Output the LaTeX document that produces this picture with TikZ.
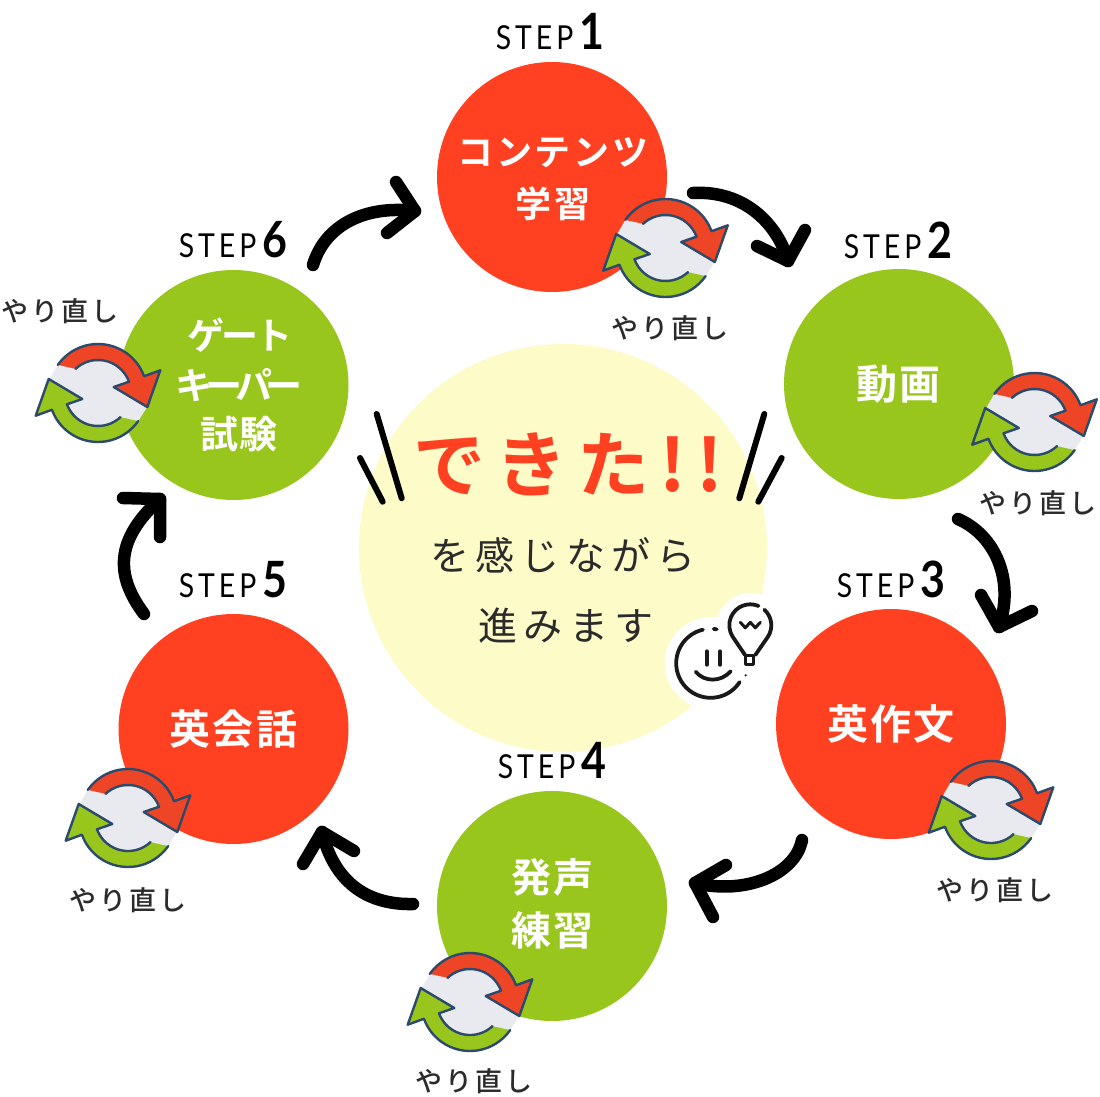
\documentclass[tikz,border=0pt]{standalone}
\usepackage{fontspec}
\setmainfont{Noto Sans CJK JP}
\newfontfamily\jpreg{Noto Sans CJK JP}
\newfontfamily\jpmed{Noto Sans CJK JP Medium}
\newfontfamily\jpbold{Noto Sans CJK JP Bold}
\newfontfamily\stepfont{Lato}
\definecolor{cred}{HTML}{FF4021}
\definecolor{cgreen}{HTML}{98C61C}
\definecolor{cpale}{HTML}{FDFBC8}
\definecolor{iconred}{HTML}{EE4526}
\definecolor{iconline}{HTML}{2C4A6B}
\definecolor{icongray}{HTML}{E9EAEF}
\definecolor{txtdark}{HTML}{2B2B2B}
\newcommand{\circfont}[2]{\jpbold\addfontfeatures{LetterSpace=#2}\fontsize{#1}{53}\selectfont}
\newcommand{\stepmark}[1]{\scalebox{0.86}[1]{\stepfont\addfontfeatures{LetterSpace=14}\fontsize{33}{33}\selectfont STEP}\hspace{6pt}{\stepfont\bfseries\fontsize{50}{50}\selectfont\scalebox{0.86}[1]{#1}}}
\newcommand{\redoband}[2]{%
  \fill[#1] (145:49pt) arc[start angle=145,end angle=20,radius=49pt] -- (62.3,22.7) -- (49.3,-14) -- (15.7,6) -- (20:33pt) arc[start angle=20,end angle=133,radius=33pt] -- cycle;
  \draw[iconstroke] (145:49pt) arc[start angle=145,end angle=20,radius=49pt] -- (62.3,22.7) -- (49.3,-14) -- (15.7,6) -- (20:33pt) arc[start angle=20,end angle=133,radius=33pt];
}
\newcommand{\redoicon}[2]{%
  \begin{scope}[shift={(#1,#2)}]
  \begin{scope}[y=1pt]
    \fill[icongray] (0,0) circle[radius=34pt];
    \fill[icongray] (-40,28.3) -- (-23,25) -- (15.7,6) -- (49.3,-14) -- (40,-28.3) -- (23,-25) -- (-15.7,-6) -- (-48.3,14) -- cycle;
    \redoband{iconred}{}
    \begin{scope}[rotate=180]
      \redoband{cgreen}{}
    \end{scope}
  \end{scope}
  \end{scope}
}
\tikzset{
  stepcircle/.style={circle,minimum size=230pt,inner sep=0pt,text=white,align=center},
  redcircle/.style={stepcircle,fill=cred},
  greencircle/.style={stepcircle,fill=cgreen},
  circletext/.style={inner sep=0pt,text=white},
  steplabel/.style={inner sep=0pt,text=black},
  redolabel/.style={inner sep=0pt,text=txtdark,font={\jpmed\addfontfeatures{LetterSpace=10}\fontsize{27}{30}\selectfont}},
  iconstroke/.style={draw=iconline,line width=2.4pt,line join=round,line cap=round},
  flowline/.style={draw=black,line width=12.5pt,line cap=round,line join=round},
  burst/.style={draw=black,line width=6pt,line cap=round},
  faceline/.style={draw=black!90,line width=3.8pt,line cap=round,line join=round},
}
\begin{document}
\begin{tikzpicture}[x=1pt,y=-1pt]
\useasboundingbox (0,0) rectangle (1100,1097);
\fill[white] (0,0) rectangle (1100,1097);

% centre
\node (centre) [circle,minimum size=408pt,inner sep=0pt,fill=cpale] at (563,548) {};
\node (done) [inner sep=0pt,text=cred] at (568,464) {\jpbold\addfontfeatures{LetterSpace=14}\fontsize{72}{72}\selectfont できた!!};
\node (line1) [inner sep=0pt,text=txtdark] at (563,555) {\jpreg\addfontfeatures{LetterSpace=16}\fontsize{39}{40}\selectfont を感じながら};
\node (line2) [inner sep=0pt,text=txtdark] at (566,626) {\jpreg\addfontfeatures{LetterSpace=16}\fontsize{39}{40}\selectfont 進みます};

% burst
\draw[burst] (376.7,414) -- (401.7,498.3);
\draw[burst] (360,458) -- (382.7,501.7);
\draw[burst] (764.3,414) -- (739.3,498.3);
\draw[burst] (781.7,458) -- (758.3,501.7);

% face and bulb
\fill[white] (710.7,663.3) circle[radius=46pt];
\fill[white] (750.3,627) circle[radius=34pt];
\fill[white] (735,640) rectangle (772,680);
\begin{scope}[shift={(710.7,663.3)}]
\begin{scope}[y=1pt]
  \draw[faceline] (103:34.5pt) arc[start angle=103,end angle=327,radius=34.5pt];
  \draw[faceline] (85:34.5pt) -- (80:34.5pt);
  \fill[black!90] (-19:37pt) circle[radius=1.2pt];
  \draw[faceline] (-4,12) -- (-4,-1.5);
  \draw[faceline] (9.3,12) -- (9.3,-1.5);
  \draw[faceline] (-15,-8.5) .. controls (-6,-19) and (10,-19) .. (20,-8);
\end{scope}
\end{scope}
\begin{scope}[shift={(750.3,625.3)}]
\begin{scope}[y=1pt]
  \draw[faceline] (67:21pt) arc[start angle=67,end angle=213,radius=21pt] -- (-5.3,-29.7);
  \draw[faceline] (48:21pt) arc[start angle=48,end angle=-35,radius=21pt] -- (5,-29.7);
  \draw[faceline,line width=3pt] (-5.3,-29.7) rectangle (3.5,-39.5);
  \draw[faceline,line width=3pt] (-10,3) -- (-5,-2.5) -- (0,3) -- (5,-2.5) -- (10,3);
\end{scope}
\end{scope}

% circles
\node (c1) [redcircle] at (552,177) {};
\node (c1a) [circletext,font={\circfont{36}{8}}] at (553,153) {コンテンツ};
\node (c1b) [circletext,font={\circfont{36}{8}}] at (553,204) {学習};
\node (c2) [greencircle,font={\circfont{41}{5}}] at (899,384) {動画};
\node (c3) [redcircle,font={\circfont{41}{5}}] at (891,724) {英作文};
\node (c4) [greencircle] at (552,906) {};
\node (c4a) [circletext,font={\circfont{40}{5}}] at (552,877) {発声};
\node (c4b) [circletext,font={\circfont{40}{5}}] at (552,930) {練習};
\node (c5) [redcircle,font={\circfont{41}{5}}] at (233.5,729) {英会話};
\node (c6) [greencircle] at (233.5,385) {};
\node (c6a) [circletext,font={\circfont{37}{-8}}] at (240,335) {ゲート};
\node (c6b) [circletext,font={\circfont{37}{-18}}] at (239,385) {キーパー};
\node (c6c) [circletext,font={\circfont{38}{5}}] at (239,434) {試験};

% step labels
\node (s1) [steplabel] at (550,32) {\stepmark{1}};
\node (s2) [steplabel] at (898,240) {\stepmark{2}};
\node (s3) [steplabel] at (891,579) {\stepmark{3}};
\node (s4) [steplabel] at (552,761) {\stepmark{4}};
\node (s5) [steplabel] at (233,580) {\stepmark{5}};
\node (s6) [steplabel] at (233,240) {\stepmark{6}};

% connectors
\coordinate (a1s) at (313,265); \coordinate (a1t) at (415,211); \coordinate (a1u) at (396,182); \coordinate (a1v) at (387,233);
\coordinate (a2s) at (693,193); \coordinate (a2t) at (788,261); \coordinate (a2u) at (757,246); \coordinate (a2v) at (805,230);
\coordinate (a3s) at (958,519); \coordinate (a3t) at (999,627); \coordinate (a3u) at (981,595); \coordinate (a3v) at (1032,611);
\coordinate (a4s) at (802,840); \coordinate (a4t) at (695,883); \coordinate (a4u) at (726,865); \coordinate (a4v) at (713,917);
\coordinate (a5s) at (413,904); \coordinate (a5t) at (322,832); \coordinate (a5u) at (303,864); \coordinate (a5v) at (354,851);
\coordinate (a6s) at (144,614); \coordinate (a6t) at (160,499); \coordinate (a6u) at (123,498); \coordinate (a6v) at (160,537);
\draw[flowline] (a1s) .. controls (325,225) and (365,205) .. (a1t);
\draw[flowline] (a1u) -- (a1t) -- (a1v);
\draw[flowline] (a2s) .. controls (745,190) and (778,225) .. (a2t);
\draw[flowline] (a2u) -- (a2t) -- (a2v);
\draw[flowline] (a3s) .. controls (995,535) and (1015,580) .. (a3t);
\draw[flowline] (a3u) -- (a3t) -- (a3v);
\draw[flowline] (a4s) .. controls (795,875) and (745,895) .. (a4t);
\draw[flowline] (a4u) -- (a4t) -- (a4v);
\draw[flowline] (a5s) .. controls (370,905) and (335,885) .. (a5t);
\draw[flowline] (a5u) -- (a5t) -- (a5v);
\draw[flowline] (a6s) .. controls (115,575) and (115,540) .. (a6t);
\draw[flowline] (a6u) -- (a6t) -- (a6v);

% redo icons
\redoicon{665.5}{248}
\redoicon{1034.5}{422}
\redoicon{991}{810}
\redoicon{470}{1002}
\redoicon{128}{818}
\redoicon{98}{393}

% redo labels
\node (r1) [redolabel] at (670,328) {やり直し};
\node (r2) [redolabel] at (1038,503) {やり直し};
\node (r3) [redolabel] at (995,890) {やり直し};
\node (r4) [redolabel] at (474,1081) {やり直し};
\node (r5) [redolabel] at (128,900) {やり直し};
\node (r6) [redolabel] at (60,311) {やり直し};
\end{tikzpicture}
\end{document}
